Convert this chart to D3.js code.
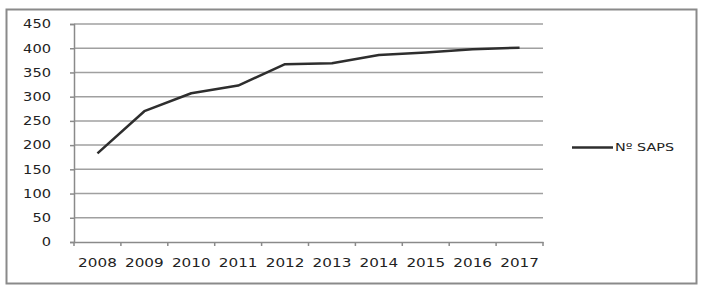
<!DOCTYPE html>
<html>
<head>
<meta charset="utf-8">
<script src="https://cdn.jsdelivr.net/npm/d3@7"></script>
<style>
  body { margin: 0; background: #fff; }
  text { font-family: "DejaVu Sans", Verdana, sans-serif; fill: #222; }
</style>
</head>
<body>
<svg id="chart" width="702" height="288"></svg>
<script>
// values
var years = ['2008', '2009', '2010', '2011', '2012', '2013', '2014', '2015', '2016', '2017'];
var saps = [183, 270, 307, 323, 367, 369, 386, 391, 398, 401];
var yTicks = [0, 50, 100, 150, 200, 250, 300, 350, 400, 450];
var seriesName = 'Nº SAPS';

var svg = d3.select('#chart');
var plot = { left: 74, right: 543, top: 24, bottom: 242 };

// outer frame
svg.append('rect')
  .attr('x', 6.5).attr('y', 9.5)
  .attr('width', 690).attr('height', 274)
  .attr('fill', 'none')
  .attr('stroke', '#8a8a8a')
  .attr('stroke-width', 2);

var x = d3.scaleBand().domain(years).range([plot.left, plot.right]);
var y = d3.scaleLinear().domain([0, 450]).range([plot.bottom, plot.top]);

// gridlines
svg.append('g')
  .selectAll('line')
  .data(yTicks.slice(1))
  .enter()
  .append('line')
  .attr('x1', plot.left)
  .attr('x2', plot.right)
  .attr('y1', d => y(d))
  .attr('y2', d => y(d))
  .attr('stroke', '#a0a0a0')
  .attr('stroke-width', 1.5);

// y axis
var yAxis = svg.append('g')
  .attr('transform', `translate(${plot.left},0)`)
  .call(d3.axisLeft(y).tickValues(yTicks).tickSize(4).tickPadding(19));
yAxis.select('.domain').attr('stroke', '#8a8a8a').attr('stroke-width', 1.5);
yAxis.selectAll('.tick line').attr('stroke', '#8a8a8a').attr('stroke-width', 1.5);
yAxis.selectAll('text')
  .attr('font-size', 12)
  .attr('fill', '#222')
  .attr('textLength', d => String(d).length * 9.3)
  .attr('lengthAdjust', 'spacingAndGlyphs');

// x axis, ticks sit on the band edges
var xAxis = svg.append('g')
  .attr('transform', `translate(0,${plot.bottom})`)
  .call(d3.axisBottom(x).tickSize(0).tickPadding(16));
xAxis.select('.domain').attr('stroke', '#8a8a8a').attr('stroke-width', 1.5);
xAxis.selectAll('text')
  .attr('font-size', 12.3)
  .attr('fill', '#222')
  .attr('textLength', 38.7)
  .attr('lengthAdjust', 'spacingAndGlyphs');

var edges = years.map(d => x(d) + x.bandwidth());
edges.unshift(plot.left);
svg.append('g')
  .selectAll('line')
  .data(edges)
  .enter()
  .append('line')
  .attr('x1', d => d)
  .attr('x2', d => d)
  .attr('y1', plot.bottom)
  .attr('y2', plot.bottom + 4)
  .attr('stroke', '#8a8a8a')
  .attr('stroke-width', 1.5);

// series line
var line = d3.line()
  .x((d, i) => x(years[i]) + x.bandwidth() / 2)
  .y(d => y(d));

svg.append('path')
  .datum(saps)
  .attr('d', line)
  .attr('fill', 'none')
  .attr('stroke', '#2e2e2e')
  .attr('stroke-width', 2.5)
  .attr('stroke-linejoin', 'round');

// legend
var legend = svg.append('g').attr('transform', 'translate(572,147.5)');
legend.append('line')
  .attr('x1', 0).attr('x2', 41)
  .attr('stroke', '#2e2e2e')
  .attr('stroke-width', 2.5);
legend.append('text')
  .attr('x', 43)
  .attr('dy', '0.35em')
  .attr('font-size', 11)
  .attr('textLength', 59)
  .attr('lengthAdjust', 'spacingAndGlyphs')
  .text(seriesName);
</script>
</body>
</html>
